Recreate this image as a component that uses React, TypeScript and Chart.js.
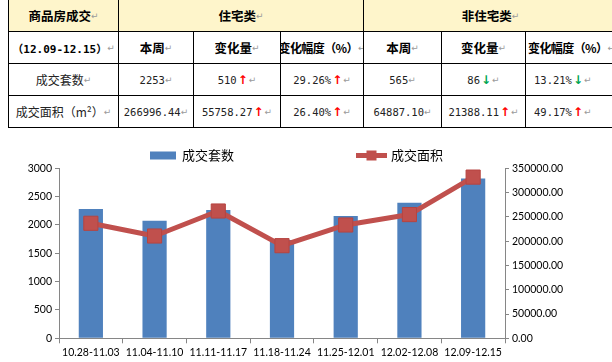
import React, { useEffect, useRef } from "react";
import { Chart, registerables } from "chart.js";

Chart.register(...registerables);

// ---------- chart data ----------
const weeks = [
  "10.28-11.03",
  "11.04-11.10",
  "11.11-11.17",
  "11.18-11.24",
  "11.25-12.01",
  "12.02-12.08",
  "12.09-12.15",
];
const unitsLabel = "成交套数";
const areaLabel = "成交面积";
const dealUnits = [2282, 2075, 2264, 1735, 2158, 2394, 2818];
const dealArea = [236800, 210600, 262100, 190700, 233300, 254737.16, 331883.54];
const unitsMax = 3000;
const unitsStep = 500;
const areaMax = 350000;
const areaStep = 50000;

// ---------- table data ----------
const tableTitle = "商品房成交";
const periodLabel = "（12.09-12.15）";
const groupLabels = ["住宅类", "非住宅类"];
const columnLabels = ["本周", "变化量", "变化幅度（%）"];
const rowLabels = ["成交套数", "成交面积（m²）"];
const residentialRows = [
  ["2253", "510", "29.26%"],
  ["266996.44", "55758.27", "26.40%"],
];
const residentialArrows = [
  ["", "up", "up"],
  ["", "up", "up"],
];
const nonResidentialRows = [
  ["565", "86", "13.21%"],
  ["64887.10", "21388.11", "49.17%"],
];
const nonResidentialArrows = [
  ["", "down", "down"],
  ["", "up", "up"],
];

// ---------- layout ----------
const colLines = [8, 118, 193, 280, 363, 441, 525, 617];
const rowLines = [-1, 31, 63, 95, 127];
const CJK = '"Noto Sans CJK SC", sans-serif';
const MONO = '"DejaVu Sans Mono", monospace';

const BAR_BLUE = "#4F81BD";
const LINE_RED = "#C0504D";

const Mark = () => (
  <span style={{ color: "#9a9a9a", fontFamily: '"DejaVu Sans"', fontSize: 9, fontWeight: 400, letterSpacing: 0 }}>↵</span>
);

const Arrow = ({ dir }: { dir: string }) =>
  dir ? (
    <span
      style={{
        color: dir === "up" ? "#FF0000" : "#00A651",
        fontFamily: '"DejaVu Sans"',
        fontWeight: 700,
        fontSize: 12,
        margin: "0 1px",
      }}
    >
      {dir === "up" ? "↑" : "↓"}
    </span>
  ) : null;

function Cell(props: {
  c0: number;
  c1: number;
  r: number;
  bg?: string;
  children?: React.ReactNode;
  padL?: number;
}) {
  const left = colLines[props.c0] + 1 - (colLines[0] + 1);
  const width = colLines[props.c1] - colLines[props.c0];
  const top = rowLines[props.r] + 1 - (rowLines[0] + 1);
  const height = rowLines[props.r + 1] - rowLines[props.r];
  return (
    <div
      style={{
        position: "absolute",
        left,
        top,
        width,
        height,
        boxSizing: "border-box",
        borderRight: "1px solid #000",
        borderBottom: "1px solid #000",
        background: props.bg || "#fff",
        display: "flex",
        alignItems: "center",
        justifyContent: props.padL ? "flex-start" : "center",
        whiteSpace: "nowrap",
        overflow: "hidden",
        paddingLeft: props.padL || 0,
      }}
    >
      {props.children}
    </div>
  );
}

function DataTable() {
  const yellow = "#FEF5CB";
  const head: React.CSSProperties = { fontFamily: CJK, fontWeight: 700, fontSize: 12.5, color: "#000" };
  const narrowHead: React.CSSProperties = { ...head, fontSize: 12, letterSpacing: -0.6 };
  const body: React.CSSProperties = { fontFamily: CJK, fontWeight: 400, fontSize: 12, color: "#222" };
  const num: React.CSSProperties = { fontFamily: MONO, fontSize: 10.5, color: "#222" };
  const valueCell = (text: string, arrow: string, c: number, r: number, padL?: number) => (
    <Cell key={`v${c}-${r}`} c0={c} c1={c + 1} r={r} padL={padL}>
      <span style={num}>{text}</span>
      {arrow ? (
        <>
          {" "}
          <Arrow dir={arrow} />
          {" "}
        </>
      ) : null}
      <Mark />
    </Cell>
  );
  return (
    <div
      style={{
        position: "absolute",
        left: colLines[0],
        top: rowLines[0],
        width: colLines[colLines.length - 1] - colLines[0] + 1,
        height: rowLines[rowLines.length - 1] - rowLines[0] + 1,
        boxSizing: "border-box",
        borderLeft: "1px solid #000",
        borderTop: "1px solid #000",
      }}
    >
      <Cell c0={0} c1={1} r={0} bg={yellow}>
        <span style={head}>{tableTitle}</span>
        <Mark />
      </Cell>
      <Cell c0={1} c1={4} r={0} bg={yellow}>
        <span style={head}>{groupLabels[0]}</span>
        <Mark />
      </Cell>
      <Cell c0={4} c1={7} r={0} bg={yellow}>
        <span style={head}>{groupLabels[1]}</span>
        <Mark />
      </Cell>
      <Cell c0={0} c1={1} r={1}>
        <span style={{ ...head, fontFamily: '"DejaVu Sans Mono", "Noto Sans CJK SC"', fontSize: 11 }}>
          {periodLabel}
        </span>
        <Mark />
      </Cell>
      {[0, 1].map((g) =>
        columnLabels.map((lab, i) => (
          <Cell key={`h${g}-${i}`} c0={1 + g * 3 + i} c1={2 + g * 3 + i} r={1}>
            <span style={i === 2 ? narrowHead : head}>{lab}</span>
            <Mark />
          </Cell>
        ))
      )}
      {rowLabels.map((lab, r) => (
        <Cell key={`r${r}`} c0={0} c1={1} r={2 + r}>
          <span style={body}>{lab}</span>
          <Mark />
        </Cell>
      ))}
      {residentialRows.map((row, r) =>
        row.map((v, i) => valueCell(v, residentialArrows[r][i], 1 + i, 2 + r))
      )}
      {nonResidentialRows.map((row, r) =>
        row.map((v, i) => valueCell(v, nonResidentialArrows[r][i], 4 + i, 2 + r, i === 2 ? 8 : 0))
      )}
    </div>
  );
}

const legendPlugin = {
  id: "excelLegend",
  afterDraw(chart: any) {
    const ctx = chart.ctx as CanvasRenderingContext2D;
    const ds = chart.data.datasets;
    const cy = 25.5;
    ctx.save();
    ctx.font = '13px "Noto Sans CJK SC"';
    ctx.textBaseline = "middle";
    ctx.textAlign = "left";
    // bar item
    ctx.fillStyle = ds[0].backgroundColor;
    ctx.fillRect(150, cy - 4, 26, 8);
    ctx.fillStyle = "#000";
    ctx.fillText(ds[0].label, 182, cy);
    // line item
    ctx.strokeStyle = ds[1].borderColor;
    ctx.lineWidth = 5;
    ctx.beginPath();
    ctx.moveTo(356, cy);
    ctx.lineTo(387, cy);
    ctx.stroke();
    ctx.fillStyle = ds[1].pointBackgroundColor;
    ctx.fillRect(366.5, cy - 5, 10, 10);
    ctx.fillStyle = "#000";
    ctx.fillText(ds[1].label, 391, cy);
    ctx.restore();
  },
};

function ComboChart() {
  const ref = useRef<HTMLCanvasElement | null>(null);
  useEffect(() => {
    if (!ref.current) return;
    const axisColor = "#868686";
    const tickFont = { family: "Lato", size: 10.5 };
    const chart = new Chart(ref.current, {
      type: "bar",
      data: {
        labels: weeks,
        datasets: [
          {
            type: "bar",
            label: unitsLabel,
            data: dealUnits,
            backgroundColor: BAR_BLUE,
            yAxisID: "y",
            categoryPercentage: 1,
            barPercentage: 0.38,
            order: 2,
          },
          {
            type: "line",
            label: areaLabel,
            data: dealArea,
            borderColor: LINE_RED,
            borderWidth: 5,
            borderJoinStyle: "round",
            pointStyle: "rect",
            pointRadius: 10,
            pointBackgroundColor: LINE_RED,
            pointBorderColor: "#B64440",
            pointBorderWidth: 1,
            tension: 0,
            yAxisID: "y1",
            order: 1,
          } as any,
        ],
      },
      options: {
        animation: false,
        responsive: true,
        maintainAspectRatio: false,
        layout: { padding: { top: 38.3, left: 0, right: 0, bottom: 0 } },
        plugins: {
          legend: { display: false },
          tooltip: { enabled: false },
          title: { display: false },
        },
        scales: {
          x: {
            grid: {
              offset: true,
              drawOnChartArea: false,
              drawTicks: true,
              tickLength: 5,
              color: axisColor,
            },
            border: { display: true, color: axisColor },
            ticks: {
              font: tickFont,
              color: "#000",
              padding: 3,
              maxRotation: 0,
              autoSkip: false,
            },
            afterFit(scale: any) {
              scale.height = 23.7;
            },
          },
          y: {
            position: "left",
            min: 0,
            max: unitsMax,
            grid: { drawOnChartArea: false, drawTicks: true, tickLength: 4, color: axisColor },
            border: { display: true, color: axisColor },
            ticks: {
              stepSize: unitsStep,
              font: tickFont,
              color: "#000",
              padding: 3,
              callback: (v: any) => String(v),
            },
            afterFit(scale: any) {
              scale.width = 59;
            },
          },
          y1: {
            position: "right",
            min: 0,
            max: areaMax,
            grid: { drawOnChartArea: false, drawTicks: true, tickLength: 4, color: axisColor },
            border: { display: true, color: axisColor },
            ticks: {
              stepSize: areaStep,
              font: tickFont,
              color: "#000",
              padding: 3,
              callback: (v: any) => Number(v).toFixed(2),
            },
            afterFit(scale: any) {
              scale.width = 107;
            },
          },
        },
      },
      plugins: [legendPlugin],
    });
    return () => chart.destroy();
  }, []);
  return (
    <div style={{ position: "absolute", left: 0, top: 130, width: 612, height: 232 }}>
      <canvas ref={ref} />
    </div>
  );
}

export default function App() {
  return (
    <div
      style={{
        position: "absolute",
        left: 0,
        top: 0,
        width: 612,
        height: 362,
        overflow: "hidden",
        background: "#fff",
      }}
    >
      <DataTable />
      <ComboChart />
    </div>
  );
}
